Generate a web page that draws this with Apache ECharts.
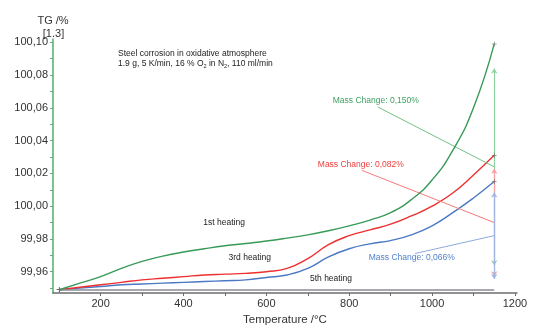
<!DOCTYPE html>
<html>
<head>
<meta charset="utf-8">
<script src="https://cdn.jsdelivr.net/npm/echarts@6/dist/echarts.min.js"></script>
<style>
  html, body { margin: 0; padding: 0; background: #fff; }
  #chart { width: 537px; height: 334px; }
</style>
</head>
<body>
<div id="chart"></div>
<script>
// Temperature grid (°C) shared by all heating runs
const temps = [100, 150, 200, 250, 300, 350, 400, 450, 500, 550, 600,
               650, 700, 750, 800, 850, 900, 950, 1000, 1050, 1100, 1150];

// TG signal (%) per heating run
const tg1st = [99.949, 99.953, 99.957, 99.962, 99.9663, 99.9695, 99.972, 99.974, 99.9758, 99.9772, 99.9787,
               99.9805, 99.9825, 99.985, 99.988, 99.9915, 99.996, 100.004, 100.016, 100.034, 100.060, 100.099];
const tg3rd = [99.949, 99.9505, 99.952, 99.9535, 99.955, 99.956, 99.957, 99.958, 99.9585, 99.959, 99.960,
               99.962, 99.968, 99.9765, 99.982, 99.9855, 99.989, 99.994, 100.000, 100.008, 100.019, 100.031];
const tg5th = [99.949, 99.950, 99.951, 99.952, 99.9525, 99.953, 99.9535, 99.954, 99.9545, 99.955, 99.9565,
               99.958, 99.962, 99.969, 99.974, 99.977, 99.979, 99.9825, 99.988, 99.996, 100.005, 100.015];

const runNames = ['1st heating', '3rd heating', '5th heating'];

// Axis ticks
const xLabelValues = [200, 400, 600, 800, 1000, 1200];
const xTickValues = [200, 300, 400, 500, 600, 700, 800, 900, 1000, 1100, 1200];
const yLabelValues = [99.96, 99.98, 100.00, 100.02, 100.04, 100.06, 100.08, 100.10];
const yTickValues = [99.95, 99.96, 99.97, 99.98, 99.99, 100.00, 100.01, 100.02, 100.03,
                     100.04, 100.05, 100.06, 100.07, 100.08, 100.09, 100.10];

// Annotation placement (data coordinates): run label, mass-change label, leader start
const annot = [
  { runLabel: [498, 99.990], mcLabel: [864, 100.0642], leader: [869, 100.0605] },
  { runLabel: [560, 99.9686], mcLabel: [828, 100.0255], leader: [831, 100.0218] },
  { runLabel: [756, 99.9558], mcLabel: [951, 99.9686], leader: [959, 99.9711] }
];

const lineColors = ['#379a57', '#ee2f2f', '#4a78c4'];
const textColors = ['#3f9f5f', '#f03c3c', '#4f7fcb'];
const arrowColors = ['#8fd3a0', '#f5a2a2', '#a3b5e2'];
const leaderColors = ['#74c088', '#f47c7c', '#8eaade'];

const crossPath = 'path://M0,4.5h10v1h-10zM4.5,0h1v10h-1z';
const fmtComma = (v, d) => v.toFixed(d).replace('.', ',');
const font = 'Liberation Sans, Arial, sans-serif';

function buildSeries(values, i) {
  const n = values.length;
  const xEnd = temps[n - 1];
  const start = values[0], end = values[n - 1];
  const delta = end - start;
  const mid = (start + end) / 2;
  const markLineData = [
    // vertical double arrow spanning the mass change
    [{ coord: [xEnd, start + 0.1 * delta], symbol: 'arrow', symbolSize: 5,
       lineStyle: { color: arrowColors[i], width: 1.2, type: 'solid' } },
     { coord: [xEnd, end - 0.1 * delta], symbol: 'arrow', symbolSize: 5 }],
    // leader from the mass-change label to the arrow midpoint
    [{ coord: annot[i].leader, symbol: 'none',
       lineStyle: { color: leaderColors[i], width: 1, type: 'solid' } },
     { coord: [xEnd, mid], symbol: 'none' }]
  ];
  if (i === 0) {
    // reference line at the initial mass
    markLineData.unshift([
      { coord: [temps[0], start], symbol: 'none', lineStyle: { color: '#8b8b96', width: 1.5, type: 'solid' } },
      { coord: [xEnd, start], symbol: 'none' }
    ]);
  }
  return {
    name: runNames[i],
    type: 'line',
    data: temps.map((t, k) => [t, values[k]]),
    smooth: 0.5,
    showSymbol: false,
    z: 5 - i,
    lineStyle: { color: lineColors[i], width: 1.4 },
    itemStyle: { color: lineColors[i] },
    markLine: {
      silent: true,
      animation: false,
      label: { show: false },
      data: markLineData
    },
    markPoint: {
      silent: true,
      animation: false,
      data: [
        { coord: [xEnd, end], symbol: crossPath, symbolSize: 5, itemStyle: { color: '#555' }, label: { show: false } },
        { coord: [temps[0], start], symbol: crossPath, symbolSize: 5, itemStyle: { color: '#555' }, label: { show: false } },
        { coord: annot[i].runLabel, symbol: 'rect', symbolSize: 1, itemStyle: { color: 'rgba(0,0,0,0)' },
          label: { show: true, position: 'inside', formatter: runNames[i], color: '#222', fontSize: 8.5,
                   fontFamily: font } },
        { coord: annot[i].mcLabel, symbol: 'rect', symbolSize: 1, itemStyle: { color: 'rgba(0,0,0,0)' },
          label: { show: true, position: 'inside', formatter: 'Mass Change: ' + fmtComma(delta, 3) + '%',
                   color: textColors[i], fontSize: 8.5, fontFamily: font } }
      ]
    }
  };
}

const chart = echarts.init(document.getElementById('chart'), null, { renderer: 'canvas' });

chart.setOption({
  animation: false,
  backgroundColor: '#ffffff',
  textStyle: { fontFamily: font },
  title: {
    left: 118,
    top: 49,
    padding: 0,
    text: 'Steel corrosion in oxidative atmosphere\n1.9 g, 5 K/min, 16 % O{s|2} in N{s|2}, 110 ml/min',
    textStyle: {
      fontSize: 8.5, fontWeight: 'normal', color: '#222', lineHeight: 10, fontFamily: font,
      rich: { s: { fontSize: 5.5, color: '#222', padding: [4, 0, 0, 0], fontFamily: font } }
    }
  },
  // y-axis title: quantity and unit, then the segment id
  graphic: [
    { type: 'text', x: 53, y: 21, silent: true,
      style: { text: 'TG /%', fill: '#333', font: '11px ' + font, align: 'center', verticalAlign: 'middle' } },
    { type: 'text', x: 53.5, y: 33.5, silent: true,
      style: { text: '[1.3]', fill: '#333', font: '11px ' + font, align: 'center', verticalAlign: 'middle' } }
  ],
  grid: { left: 53, right: 20, top: 39, bottom: 41 },
  xAxis: {
    type: 'value',
    min: 85,
    max: 1205,
    name: 'Temperature /°C',
    nameLocation: 'middle',
    nameGap: 14,
    nameTextStyle: { fontSize: 11.5, color: '#333', fontFamily: font },
    axisLine: { show: true, lineStyle: { color: '#6e6e6e', width: 1.5 } },
    axisTick: { show: true, customValues: xTickValues, length: 3, lineStyle: { color: '#6e6e6e' } },
    axisLabel: { customValues: xLabelValues, fontSize: 11, color: '#333', margin: 5,
                 formatter: v => String(v) },
    splitLine: { show: false }
  },
  yAxis: {
    type: 'value',
    min: 99.947,
    max: 100.102,
    axisLine: { show: true, lineStyle: { color: '#4fb06e', width: 1.5 } },
    axisTick: { show: true, customValues: yTickValues, length: 3, lineStyle: { color: '#6aa87c' } },
    axisLabel: { customValues: yLabelValues, fontSize: 11, color: '#333', margin: 5,
                 formatter: v => fmtComma(v, 2) },
    splitLine: { show: false }
  },
  series: [tg1st, tg3rd, tg5th].map(buildSeries)
});
</script>
</body>
</html>
